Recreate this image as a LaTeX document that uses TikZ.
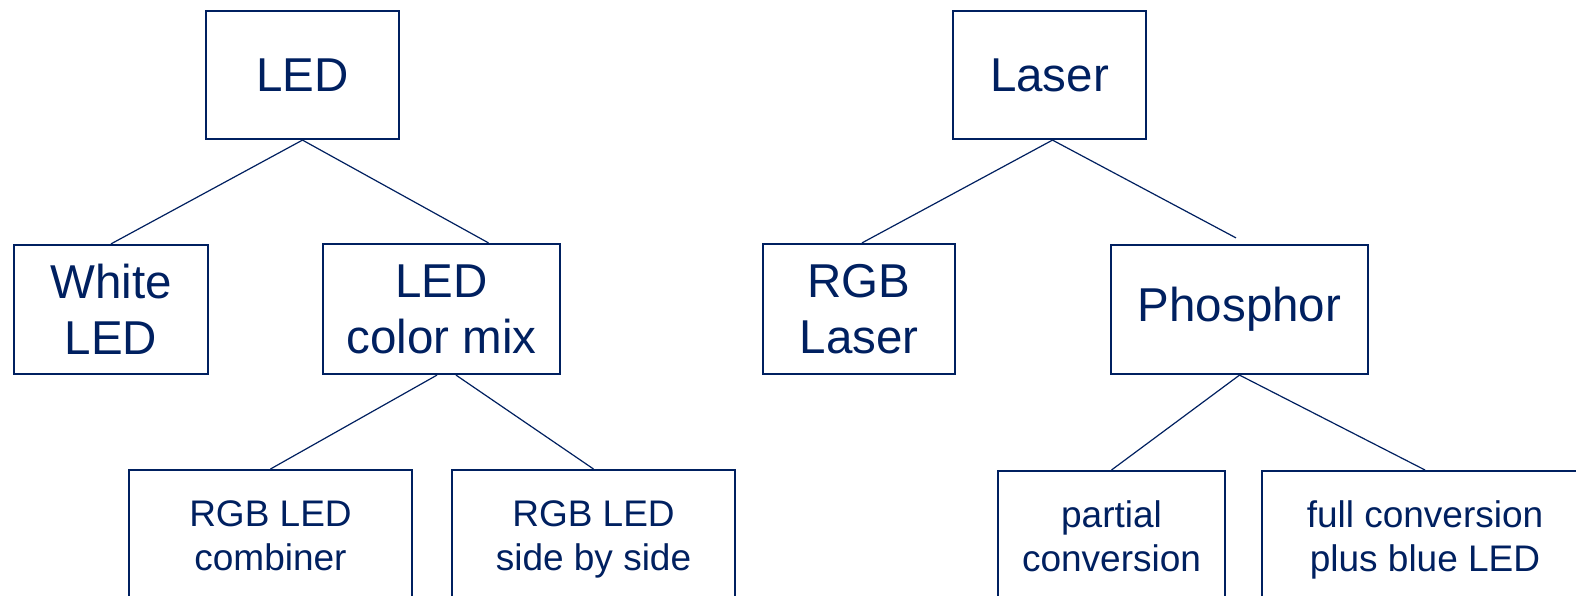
\documentclass[tikz,border=0pt]{standalone}
\usepackage{fontspec}
\setmainfont{Liberation Sans}
\usetikzlibrary{calc}
\definecolor{navy}{RGB}{0,32,96}
\begin{document}
\begin{tikzpicture}[x=1pt,y=-1pt,
  box/.style={draw=navy, line width=2.2pt, text=navy, inner sep=0pt, align=center},
  big/.style={box, font=\fontsize{47.5}{56}\selectfont},
  small/.style={box, anchor=north, minimum height=138.4pt, font=\fontsize{37}{44}\selectfont},
  conn/.style={draw=navy, line width=1.2pt}]
\clip (0,0) rectangle (1576,596);
\fill[white] (0,0) rectangle (1576,596);
% top level
\node[big, minimum width=193pt, minimum height=128pt] (led) at (302.5,75) {LED};
\node[big, minimum width=193pt, minimum height=128pt] (laser) at (1049.5,75) {Laser};
% second level
\node[big, minimum width=194pt, minimum height=129pt] (white) at (111,309.5) {White\\LED};
\node[big, minimum width=237pt, minimum height=130pt] (mix) at (441.5,309) {LED\\color mix};
\node[big, minimum width=192pt, minimum height=130pt] (rgbl) at (859,309) {RGB\\Laser};
\node[big, minimum width=257pt, minimum height=129pt] (phos) at (1239.5,309.5) {Phosphor};
% third level
\node[small, minimum width=283pt] (comb) at (270.5,469) {\strut RGB LED\\\strut combiner};
\node[small, minimum width=283pt] (side) at (593.5,469) {\strut RGB LED\\\strut side by side};
\node[small, minimum width=227pt] (part) at (1111.5,470) {\strut partial\\\strut conversion};
\node[small, minimum width=326pt] (full) at (1425,470) {\strut full conversion\\\strut plus blue LED};
% connectors
\draw[conn] (led.south) -- (white.north);
\draw[conn] (led.south) -- ($(mix.north)+(47,0)$);
\draw[conn] ($(mix.south)+(-4.5,0)$) -- (comb.north);
\draw[conn] ($(mix.south)+(14.5,0)$) -- (side.north);
\draw[conn] ($(laser.south)+(3,0)$) -- ($(rgbl.north)+(3,0)$);
\draw[conn] ($(laser.south)+(3,0)$) -- ($(phos.north)+(-3.5,-6)$);
\draw[conn] (phos.south) -- (part.north);
\draw[conn] (phos.south) -- (full.north);
\end{tikzpicture}
\end{document}
